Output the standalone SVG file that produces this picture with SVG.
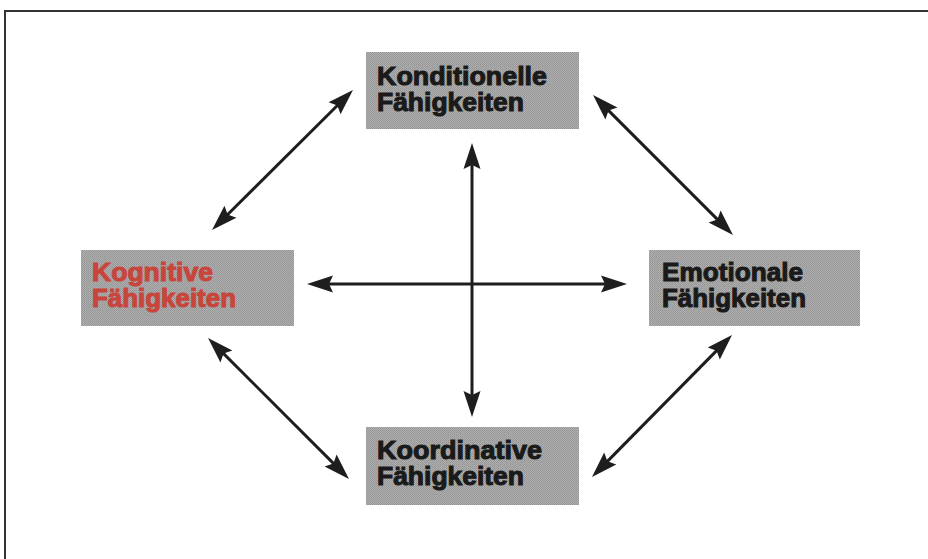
<svg xmlns="http://www.w3.org/2000/svg" width="928" height="559" viewBox="0 0 928 559">
<defs>
<pattern id="ht" width="2" height="2" patternUnits="userSpaceOnUse">
<rect width="2" height="2" fill="#b0b0b0"/>
<rect width="1" height="1" fill="#929292"/>
<rect x="1" y="1" width="1" height="1" fill="#9a9a9a"/>
</pattern>
<marker id="ah" markerUnits="userSpaceOnUse" markerWidth="40" markerHeight="40" viewBox="-20 -20 40 40" refX="0" refY="0" orient="auto-start-reverse" overflow="visible">
<path d="M10,0 L-16,-8.5 L-12,0 L-16,8.5 Z" fill="#1e1e1e"/>
</marker>
<style>
.box{fill:url(#ht);}
.t{font-family:"Liberation Sans",Arial,sans-serif;font-weight:bold;font-size:25px;fill:#1a1a1a;stroke:#1a1a1a;stroke-width:1;}
.red{fill:#c8453c;stroke:#c8453c;}
.c{stroke:#1e1e1e;stroke-width:3;fill:none;marker-start:url(#ah);marker-end:url(#ah);}
</style>
</defs>
<rect width="928" height="559" fill="#ffffff"/>
<path d="M5,559 V11 H928" fill="none" stroke="#333" stroke-width="2"/>
<g id="connectors">
<line class="c" x1="472" y1="153" x2="472" y2="407"/>
<line class="c" x1="317" y1="284" x2="617" y2="284"/>
<line class="c" x1="345.9" y1="97" x2="219.1" y2="223"/>
<line class="c" x1="600.1" y1="102.1" x2="725.9" y2="227.9"/>
<line class="c" x1="215.1" y1="345.1" x2="341.9" y2="471.9"/>
<line class="c" x1="725" y1="342.1" x2="599" y2="469.9"/>
</g>
<g id="konditionelle">
<rect class="box" x="366" y="52" width="213" height="77"/>
<text class="t"><tspan x="377" y="85" textLength="170" lengthAdjust="spacingAndGlyphs">Konditionelle</tspan><tspan x="377" y="111" textLength="147" lengthAdjust="spacingAndGlyphs">Fähigkeiten</tspan></text>
</g>
<g id="kognitive">
<rect class="box" x="81" y="250" width="213" height="76"/>
<text class="t red"><tspan x="92" y="281" textLength="121" lengthAdjust="spacingAndGlyphs">Kognitive</tspan><tspan x="92" y="307" textLength="144" lengthAdjust="spacingAndGlyphs">Fähigkeiten</tspan></text>
</g>
<g id="emotionale">
<rect class="box" x="649" y="250" width="211" height="76"/>
<text class="t"><tspan x="662" y="281" textLength="141" lengthAdjust="spacingAndGlyphs">Emotionale</tspan><tspan x="662" y="307" textLength="144" lengthAdjust="spacingAndGlyphs">Fähigkeiten</tspan></text>
</g>
<g id="koordinative">
<rect class="box" x="366" y="427" width="213" height="78"/>
<text class="t"><tspan x="377" y="459" textLength="165" lengthAdjust="spacingAndGlyphs">Koordinative</tspan><tspan x="377" y="485" textLength="147" lengthAdjust="spacingAndGlyphs">Fähigkeiten</tspan></text>
</g>
</svg>
